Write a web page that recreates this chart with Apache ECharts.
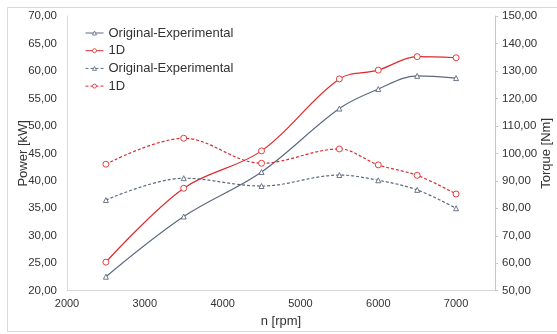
<!DOCTYPE html>
<html>
<head>
<meta charset="utf-8">
<script src="https://cdn.jsdelivr.net/npm/echarts@6/dist/echarts.min.js"></script>
<style>
html,body{margin:0;padding:0;background:#fff;}
#chart{width:557px;height:334px;}
</style>
</head>
<body>
<div id="chart"></div>
<script>
const rpm = [2500, 3500, 4500, 5500, 6000, 6500, 7000];
const powerExp = [22.55, 33.5, 41.6, 53.15, 56.7, 59.1, 58.7];
const power1D = [25.2, 38.65, 45.45, 58.55, 60.15, 62.6, 62.4];
const torqueExp = [83.0, 90.95, 88.1, 92.1, 90.2, 86.7, 80.0];
const torque1D = [96.05, 105.5, 96.4, 101.6, 95.8, 92.0, 85.2];
const seriesNames = ['Original-Experimental', '1D', 'Original-Experimental ', '1D '];

const GRAY = '#5d6a7e';
const RED = '#de2a2e';
const FONT = 'Liberation Sans, Arial, sans-serif';
const fmt = v => v.toFixed(2).replace('.', ',');
const pairs = arr => rpm.map((x, i) => [x, arr[i]]);

const chart = echarts.init(document.getElementById('chart'), null, {renderer: 'canvas'});
function mk(name, data, color, sym, size, dashed, yIdx) {
  return {
    name, type: 'line', yAxisIndex: yIdx, data: pairs(data),
    smooth: 0.35, symbol: sym, symbolSize: size,
    itemStyle: {color: '#ffffff', borderColor: color, borderWidth: 0.9},
    lineStyle: {color: color, width: 1.2, type: dashed ? [3, 2] : 'solid'},
    emphasis: {disabled: true}, animation: false
  };
}
chart.setOption({
  animation: false,
  textStyle: {fontFamily: FONT},
  graphic: [{type: 'rect', shape: {x: 7.5, y: 7.5, width: 560, height: 324}, style: {fill: 'none', stroke: '#d9d9d9', lineWidth: 1}, z: -1}],
  grid: {left: 67, right: 62, top: 16, bottom: 43.3, outerBoundsMode: 'none', containLabel: false},
  legend: {
    orient: 'vertical', left: 80, top: 21, itemWidth: 18, itemHeight: 5, itemGap: 3.7,
    data: seriesNames,
    formatter: n => n.trim(),
    lineStyle: {width: 1},
    itemStyle: {borderWidth: 0.8},
    textStyle: {fontSize: 13, color: '#333', fontFamily: FONT, lineHeight: 14}
  },
  xAxis: {
    type: 'value', min: 2000, max: 7500, interval: 1000,
    name: 'n [rpm]', nameLocation: 'middle', nameGap: 24, nameMoveOverlap: false,
    nameTextStyle: {fontSize: 13, color: '#333', fontFamily: FONT},
    axisLine: {show: true, lineStyle: {color: '#d9d9d9'}},
    axisTick: {show: false}, splitLine: {show: false},
    axisLabel: {fontSize: 11, color: '#333', margin: 8, showMaxLabel: false, fontFamily: FONT, formatter: v => String(v)}
  },
  yAxis: [{
    type: 'value', min: 20, max: 70, interval: 5, position: 'left',
    name: 'Power [kW]', nameLocation: 'middle', nameGap: 37.5, nameMoveOverlap: false,
    nameTextStyle: {fontSize: 13, color: '#333', fontFamily: FONT},
    axisLine: {show: true, lineStyle: {color: '#d9d9d9'}},
    axisTick: {show: false}, splitLine: {show: false},
    axisLabel: {fontSize: 11.5, color: '#333', margin: 10, formatter: fmt, fontFamily: FONT}
  }, {
    type: 'value', min: 50, max: 150, interval: 10, position: 'right',
    name: 'Torque [Nm]', nameLocation: 'middle', nameGap: 44.5, nameMoveOverlap: false,
    nameTextStyle: {fontSize: 13, color: '#333', fontFamily: FONT},
    axisLine: {show: true, lineStyle: {color: '#c8c8c8'}},
    axisTick: {show: true, length: 3, lineStyle: {color: '#c8c8c8'}}, splitLine: {show: false},
    axisLabel: {fontSize: 11.5, color: '#333', margin: 7, formatter: fmt, fontFamily: FONT}
  }],
  series: [
    mk(seriesNames[0], powerExp, GRAY, 'triangle', 5, false, 0),
    mk(seriesNames[1], power1D, RED, 'circle', 6, false, 0),
    mk(seriesNames[2], torqueExp, GRAY, 'triangle', 5, true, 1),
    mk(seriesNames[3], torque1D, RED, 'circle', 6, true, 1)
  ]
});
</script>
</body>
</html>
